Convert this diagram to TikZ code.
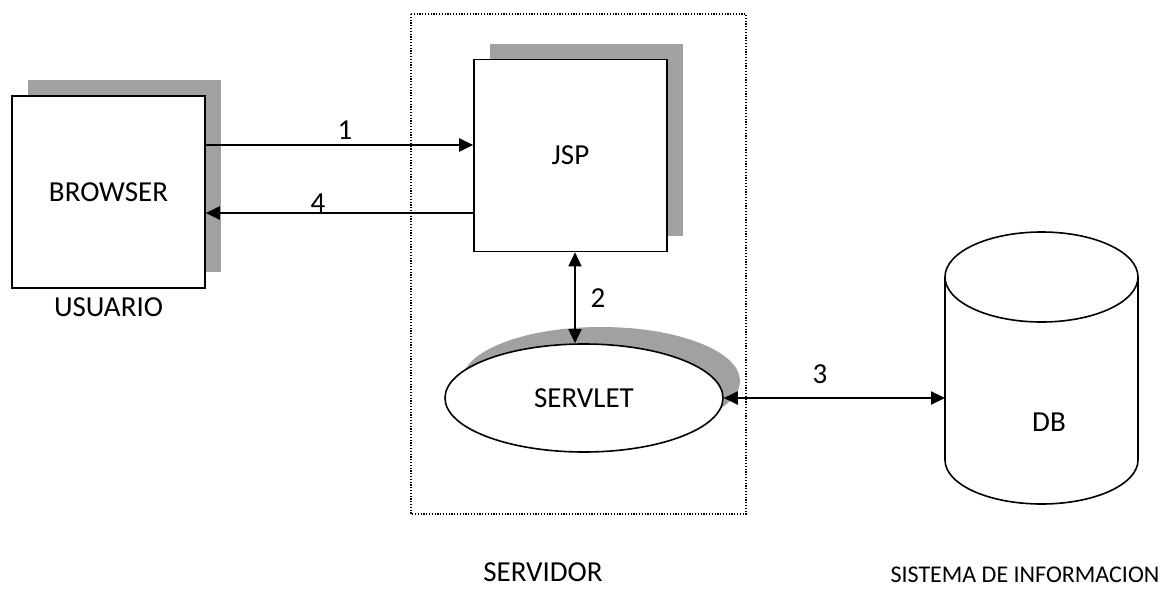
\documentclass[tikz,border=0pt]{standalone}
\usepackage{fontspec}
\setmainfont{Carlito}
\usepackage{tikz}
\usetikzlibrary{shapes,arrows.meta,shadows,calc,positioning}
\definecolor{shadowGray}{rgb}{0.63,0.63,0.63}

\begin{document}
\begin{tikzpicture}[x=1pt,y=-1pt,
  every node/.style={font=\fontsize{29}{34}\selectfont},
  grayShadow/.style={drop shadow={shadow xshift=16pt,shadow yshift=16pt,fill=shadowGray,opacity=1}},
  box/.style={draw,line width=1.6pt,fill=white,minimum width=193pt,minimum height=192pt,inner sep=0pt,grayShadow},
  caption/.style={inner sep=0pt},
  flow/.style={line width=2.2pt,>={Triangle[length=14pt,width=13pt]}},
  dbline/.style={line width=1.6pt}]

\useasboundingbox (0,0) rectangle (1165,589);

% the server frame
\draw [dash pattern=on 1.2pt off 1.6pt,line width=1.2pt] (411,14) rectangle (746,514);

% boxes
\node [box] (browser) at (108.5,192) {BROWSER};
\node [box] (jsp) at (570.5,155.5) {JSP};
\node [draw,ellipse,line width=1.6pt,fill=white,minimum width=278pt,minimum height=108pt,inner sep=0pt,
       drop shadow={shadow xshift=17pt,shadow yshift=17pt,fill=shadowGray,opacity=1}] (servlet) at (584,398) {SERVLET};

% draw the database cylinder
\draw [dbline] (1041.5,277) ellipse [x radius=96.5pt, y radius=45pt];
\draw [dbline] (945,277) -- (945,460) arc [start angle=180,end angle=360,x radius=96.5pt,y radius=44pt] -- (1138,277);
\node (db) at (1049,422) {DB};
\coordinate (dbin) at (945,399);

% captions
\node [caption,below=9pt of browser] (usuario) {USUARIO};
\node [caption] (servidor) at (543,572) {SERVIDOR};
\node [caption,font=\fontsize{24}{28}\selectfont] (sistema) at (1025,575) {SISTEMA DE INFORMACION};

% the request flow
\draw [flow,->] ([yshift=47pt]browser.east) -- ([yshift=47pt]browser.east -| jsp.west);
\draw [flow,->] ([yshift=-57.5pt]jsp.west) -- ([yshift=-57.5pt]jsp.west -| browser.east);
\draw [flow,<->,line width=1.5pt] ([xshift=4.5pt]jsp.south) -- ([xshift=4.5pt]jsp.south |- servlet.north);
\draw [flow,<->] (servlet.east) -- (servlet.east -| dbin);

% number the steps
\foreach \n/\x/\y in {1/345/130, 4/318/203, 2/598/298, 3/820/374}
  \node [caption] (step\n) at (\x,\y) {\n};

\end{tikzpicture}
\end{document}
